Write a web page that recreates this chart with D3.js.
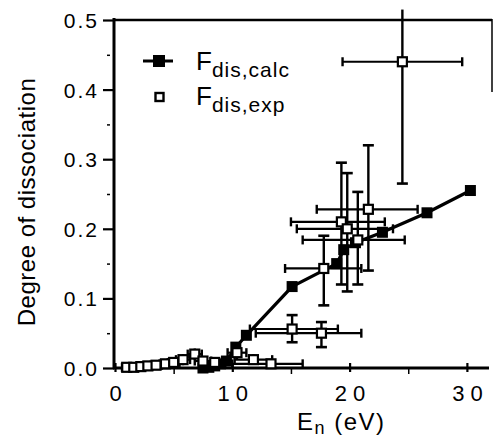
<!DOCTYPE html>
<html><head><meta charset="utf-8">
<script src="https://cdn.jsdelivr.net/npm/d3@7"></script>
<style>body{margin:0;background:#fff}svg{display:block}text{font-family:"Liberation Sans",Arial,sans-serif;fill:#000}</style>
</head><body><svg id="c" width="494" height="440"></svg>
<script>
// Calculated degree of dissociation (filled squares, joined)
const calcE = [7.5, 8.0, 8.5, 9.0, 9.5, 10.3, 11.2, 15.1, 18.9, 19.5, 20.5, 22.8, 26.6, 30.3];
const calcF = [0.0, 0.001, 0.003, 0.006, 0.01, 0.03, 0.047, 0.117, 0.15, 0.17, 0.18, 0.195, 0.223, 0.255];
// Experimental (open squares with error bars)
const expE   = [1.0, 1.6, 2.2, 2.8, 3.5, 4.3, 5.0, 5.8, 6.8, 7.5, 8.5, 10.4, 11.8, 13.3, 15.1, 17.6, 17.8, 19.3, 19.8, 20.7, 21.6, 24.5];
const expF   = [0.001, 0.001, 0.002, 0.003, 0.004, 0.006, 0.008, 0.012, 0.02, 0.01, 0.008, 0.022, 0.012, 0.006, 0.056, 0.05, 0.143, 0.21, 0.2, 0.184, 0.228, 0.44];
const expElo = [0.6, 1.2, 1.8, 2.4, 3.0, 3.8, 4.5, 5.2, 6.2, 6.8, 7.6, 9.6, 10.2, 10.0, 11.5, 12.0, 14.5, 15.0, 15.5, 16.0, 17.2, 19.4];
const expEhi = [1.4, 2.0, 2.6, 3.2, 4.0, 4.8, 5.5, 6.4, 7.4, 8.2, 9.4, 11.2, 13.4, 16.0, 19.0, 21.0, 21.0, 23.0, 23.7, 24.7, 25.8, 29.6];
const expFlo = [0.0, 0.0, 0.0, 0.0, 0.0, 0.0, 0.0, 0.004, 0.012, 0.004, 0.002, 0.012, 0.005, 0.0, 0.037, 0.03, 0.09, 0.12, 0.11, 0.12, 0.14, 0.265];
const expFhi = [0.003, 0.003, 0.004, 0.006, 0.008, 0.01, 0.014, 0.02, 0.028, 0.016, 0.014, 0.032, 0.02, 0.012, 0.076, 0.066, 0.19, 0.295, 0.28, 0.253, 0.32, 0.52];
const xTicks = [0, 10, 20, 30];
const yTicks = [0.0, 0.1, 0.2, 0.3, 0.4, 0.5];

const svg = d3.select("#c");
const x = d3.scaleLinear().domain([0, 31.8]).range([115, 488]);
const y = d3.scaleLinear().domain([0, 0.5]).range([368, 20]);

// frame
const g = svg.append("g");
g.append("line").attr("x1",114).attr("x2",114).attr("y1",18).attr("y2",369).attr("stroke","#000").attr("stroke-width",3);
g.append("line").attr("x1",113).attr("x2",489).attr("y1",368).attr("y2",368).attr("stroke","#000").attr("stroke-width",3);
g.append("line").attr("x1",113).attr("x2",492).attr("y1",20).attr("y2",20).attr("stroke","#000").attr("stroke-width",2.5);
g.append("line").attr("x1",492).attr("x2",492).attr("y1",19).attr("y2",92).attr("stroke","#000").attr("stroke-width",1.5);

// y axis
const yAx = d3.axisLeft(y).tickValues(yTicks).tickSize(11).tickFormat(d3.format(".1f"));
const ya = svg.append("g").attr("transform","translate(114,0)").call(yAx);
ya.select(".domain").remove();
ya.selectAll(".tick line").attr("stroke-width",2.2);
ya.selectAll(".tick text").attr("font-size",21).attr("letter-spacing","2px").attr("dx",-1).attr("dy","0.36em");
const yMin = d3.axisLeft(y).tickValues([0.05,0.15,0.25,0.35,0.45]).tickSize(3).tickFormat("");
const ym = svg.append("g").attr("transform","translate(110,0)").call(yMin);
ym.select(".domain").remove(); ym.selectAll(".tick line").attr("stroke-width",1.5);

// x axis
const xAx = d3.axisBottom(x).tickValues(xTicks).tickSize(9).tickFormat(d3.format("d"));
const xa = svg.append("g").attr("transform","translate(0,363)").call(xAx);
xa.select(".domain").remove();
xa.selectAll(".tick line").attr("stroke-width",2.2);
xa.selectAll(".tick text").attr("font-size",22).attr("letter-spacing","6px").attr("y",22).attr("dx","3px");
const xMin = d3.axisBottom(x).tickValues([5,15,25]).tickSize(6).tickFormat("");
const xm = svg.append("g").attr("transform","translate(0,368)").call(xMin);
xm.select(".domain").remove(); xm.selectAll(".tick line").attr("stroke-width",1.5);

// titles
svg.append("text").attr("transform","translate(35,202) rotate(-90)").attr("text-anchor","middle").attr("font-size",24).attr("letter-spacing","0.5px").text("Degree of dissociation");
const xt = svg.append("text").attr("x",297).attr("y",430).attr("font-size",24).attr("letter-spacing","1.5px");
xt.append("tspan").text("E");
xt.append("tspan").attr("font-size",18).attr("dy",4).text("n");
xt.append("tspan").attr("dy",-4).text(" (eV)");

// experimental error bars
const plot = svg.append("g");
const idx = d3.range(expE.length);
plot.selectAll(".ex").data(idx).join("line")
  .attr("x1",i=>x(expElo[i])).attr("x2",i=>x(expEhi[i])).attr("y1",i=>y(expF[i])).attr("y2",i=>y(expF[i]))
  .attr("stroke","#000").attr("stroke-width",2.2);
plot.selectAll(".ey").data(idx).join("line")
  .attr("x1",i=>x(expE[i])).attr("x2",i=>x(expE[i])).attr("y1",i=>y(expFlo[i])).attr("y2",i=>y(Math.min(expFhi[i],0.515)))
  .attr("stroke","#000").attr("stroke-width",2.4);
// caps
const capX = [];
idx.forEach(i=>{capX.push([expElo[i],expF[i]]);capX.push([expEhi[i],expF[i]]);});
plot.selectAll(".cx").data(capX).join("line")
  .attr("x1",d=>x(d[0])).attr("x2",d=>x(d[0])).attr("y1",d=>y(d[1])-4.5).attr("y2",d=>y(d[1])+4.5)
  .attr("stroke","#000").attr("stroke-width",2.4);
const capY = [];
idx.forEach(i=>{ if(expFhi[i]-expFlo[i]>0.02){capY.push([expE[i],expFlo[i]]); if(expFhi[i]<0.5) capY.push([expE[i],expFhi[i]]);} });
plot.selectAll(".cy").data(capY).join("line")
  .attr("x1",d=>x(d[0])-5.5).attr("x2",d=>x(d[0])+5.5).attr("y1",d=>y(d[1])).attr("y2",d=>y(d[1]))
  .attr("stroke","#000").attr("stroke-width",2.6);

// calc line + markers
const calcPts = calcE.map((e,i)=>[e,calcF[i]]);
plot.append("path").datum(calcPts)
  .attr("d",d3.line().x(d=>x(d[0])).y(d=>y(d[1])))
  .attr("fill","none").attr("stroke","#000").attr("stroke-width",3.2);
plot.selectAll(".cm").data(calcPts).join("rect")
  .attr("x",d=>x(d[0])-5.5).attr("y",d=>y(d[1])-5.5).attr("width",11).attr("height",11).attr("fill","#000");

// exp markers
plot.selectAll(".em").data(idx).join("rect")
  .attr("x",i=>x(expE[i])-4.5).attr("y",i=>y(expF[i])-4.5).attr("width",9).attr("height",9)
  .attr("fill","#fff").attr("stroke","#000").attr("stroke-width",2.2);

// legend
const lg = svg.append("g");
lg.append("line").attr("x1",143).attr("x2",173).attr("y1",61).attr("y2",61).attr("stroke","#000").attr("stroke-width",3);
lg.append("rect").attr("x",153).attr("y",55).attr("width",12).attr("height",12).attr("fill","#000");
lg.append("rect").attr("x",155.5).attr("y",93).attr("width",8).attr("height",8).attr("fill","#fff").attr("stroke","#000").attr("stroke-width",2.4);
const l1 = lg.append("text").attr("x",196).attr("y",70).attr("font-size",26);
l1.append("tspan").text("F"); l1.append("tspan").attr("font-size",21).attr("letter-spacing","1px").attr("dy",7).text("dis,calc");
const l2 = lg.append("text").attr("x",196).attr("y",105).attr("font-size",26);
l2.append("tspan").text("F"); l2.append("tspan").attr("font-size",21).attr("letter-spacing","1px").attr("dy",7).text("dis,exp");
</script></body></html>
